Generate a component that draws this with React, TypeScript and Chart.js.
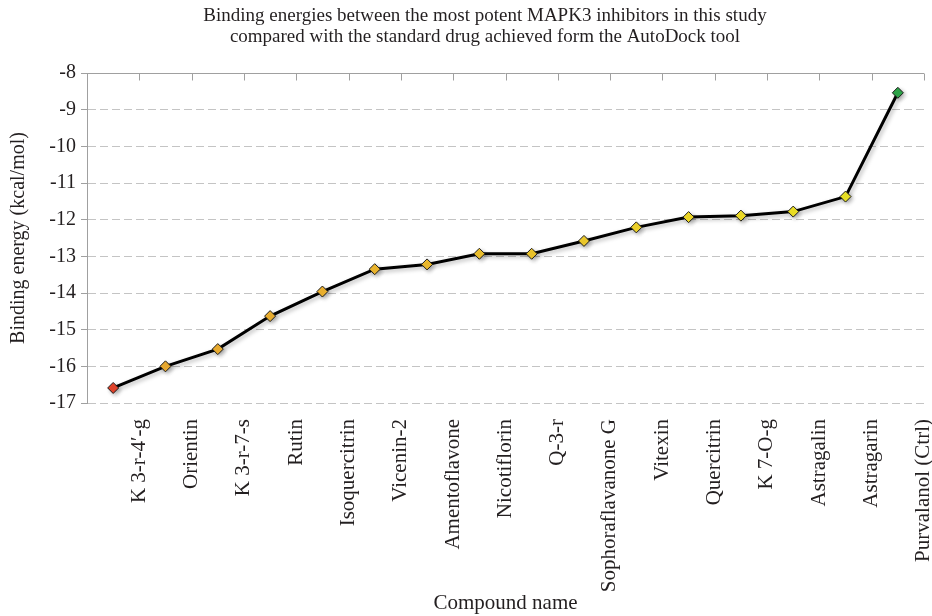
import React, { useEffect, useRef } from "react";
import { Chart, registerables } from "chart.js";

Chart.register(...registerables);

const titleLines = [
  "Binding energies between the most potent MAPK3 inhibitors in this study",
  "compared with the standard drug achieved form the AutoDock tool",
];

const compounds = [
  "K 3-r-4\u2032-g",
  "Orientin",
  "K 3-r-7-s",
  "Rutin",
  "Isoquercitrin",
  "Vicenin-2",
  "Amentoflavone",
  "Nicotiflorin",
  "Q-3-r",
  "Sophoraflavanone G",
  "Vitexin",
  "Quercitrin",
  "K 7-O-g",
  "Astragalin",
  "Astragarin",
  "Purvalanol (Ctrl)",
];

const bindingEnergy = [
  -16.59, -16.0, -15.53, -14.63, -13.96, -13.35, -13.22, -12.93, -12.93, -12.58,
  -12.21, -11.93, -11.89, -11.78, -11.37, -8.54,
];

const markerColors = [
  "#E8452C",
  "#EFAE30",
  "#F0B030",
  "#F1B330",
  "#F2B630",
  "#F2BA2E",
  "#F2BE2E",
  "#F2C42E",
  "#F2C92C",
  "#F3CF2C",
  "#F4D72A",
  "#F4DD28",
  "#F4E128",
  "#F2E526",
  "#F0E826",
  "#2EA84A",
];

const yTicks = [-17, -16, -15, -14, -13, -12, -11, -10, -9, -8];

const FONT = "'Liberation Serif', 'Times New Roman', serif";
const TEXT = "#231F20";
const AXIS = "#A0A0A0";
const GRID = "#C4C4C4";

const chartTitlePlugin = {
  id: "chartTitle",
  afterDraw(chart: any) {
    const { ctx } = chart;
    ctx.save();
    ctx.fillStyle = TEXT;
    ctx.font = `19px ${FONT}`;
    ctx.textAlign = "center";
    ctx.textBaseline = "middle";
    titleLines.forEach((line, i) => {
      ctx.fillText(line, 485, 16 + i * 21);
    });
    ctx.restore();
  },
};

const topAxisPlugin = {
  id: "topAxis",
  beforeDatasetsDraw(chart: any) {
    const { ctx, chartArea, scales } = chart;
    const x = scales.x;
    ctx.save();
    ctx.strokeStyle = AXIS;
    ctx.lineWidth = 1;
    ctx.setLineDash([]);
    ctx.beginPath();
    const top = Math.round(chartArea.top) + 0.5;
    ctx.moveTo(chartArea.left, top);
    ctx.lineTo(chartArea.right, top);
    for (let i = 0; i <= compounds.length; i++) {
      const px = Math.round(x.getPixelForValue(i - 0.5)) + 0.5;
      ctx.moveTo(px, top);
      ctx.lineTo(px, top + 7);
    }
    ctx.stroke();
    ctx.restore();
  },
};

const shadowPlugin = {
  id: "lineShadow",
  beforeDatasetDraw(chart: any) {
    const ctx = chart.ctx;
    ctx.save();
    ctx.shadowColor = "rgba(0,0,0,0.28)";
    ctx.shadowBlur = 4;
    ctx.shadowOffsetX = 2;
    ctx.shadowOffsetY = 2;
  },
  afterDatasetDraw(chart: any) {
    chart.ctx.restore();
  },
};

export default function App() {
  const ref = useRef<HTMLCanvasElement | null>(null);

  useEffect(() => {
    if (!ref.current) return;
    const chart = new Chart(ref.current, {
      type: "line",
      data: {
        labels: compounds,
        datasets: [
          {
            data: bindingEnergy,
            borderColor: "#000000",
            borderWidth: 3,
            tension: 0,
            pointStyle: "rectRot",
            pointRadius: 5.5,
            pointBorderWidth: 1,
            pointBorderColor: "#1a1a1a",
            pointBackgroundColor: markerColors,
            fill: false,
          },
        ],
      },
      options: {
        animation: false,
        responsive: true,
        maintainAspectRatio: false,
        layout: { padding: { left: 0, right: 8, top: 73, bottom: 0 } },
        plugins: {
          legend: { display: false },
          tooltip: { enabled: false },
          title: { display: false },
        },
        scales: {
          x: {
            type: "category",
            offset: true,
            grid: { display: false },
            border: { display: false },
            ticks: {
              autoSkip: false,
              minRotation: 90,
              maxRotation: 90,
              padding: 8,
              labelOffset: 26,
              color: TEXT,
              font: { family: FONT, size: 21 },
            },
            title: {
              display: true,
              text: "Compound name",
              color: TEXT,
              font: { family: FONT, size: 21 },
              padding: { top: 0, bottom: 0 },
            },
            afterFit: (scale: any) => {
              scale.height = 213;
            },
          },
          y: {
            min: -17,
            max: -8,
            afterBuildTicks: (scale: any) => {
              scale.ticks = yTicks.map((v) => ({ value: v }));
            },
            grid: {
              color: GRID,
              lineWidth: 1,
              tickLength: 6,
              tickColor: AXIS,
            },
            border: { display: true, color: AXIS, width: 1, dash: [8, 4] },
            ticks: {
              padding: 5,
              color: TEXT,
              font: { family: FONT, size: 20 },
              callback: (v: any) => String(v),
            },
            title: {
              display: true,
              text: "Binding energy (kcal/mol)",
              color: TEXT,
              font: { family: FONT, size: 20 },
              padding: { top: 7, bottom: 0 },
            },
            afterFit: (scale: any) => {
              scale.width = 87;
            },
          },
        },
      },
      plugins: [topAxisPlugin, shadowPlugin, chartTitlePlugin],
    });
    return () => chart.destroy();
  }, []);

  return (
    <div style={{ position: "absolute", left: 0, top: 0, width: 932, height: 616, background: "#fff" }}>
      <canvas ref={ref} />
    </div>
  );
}
